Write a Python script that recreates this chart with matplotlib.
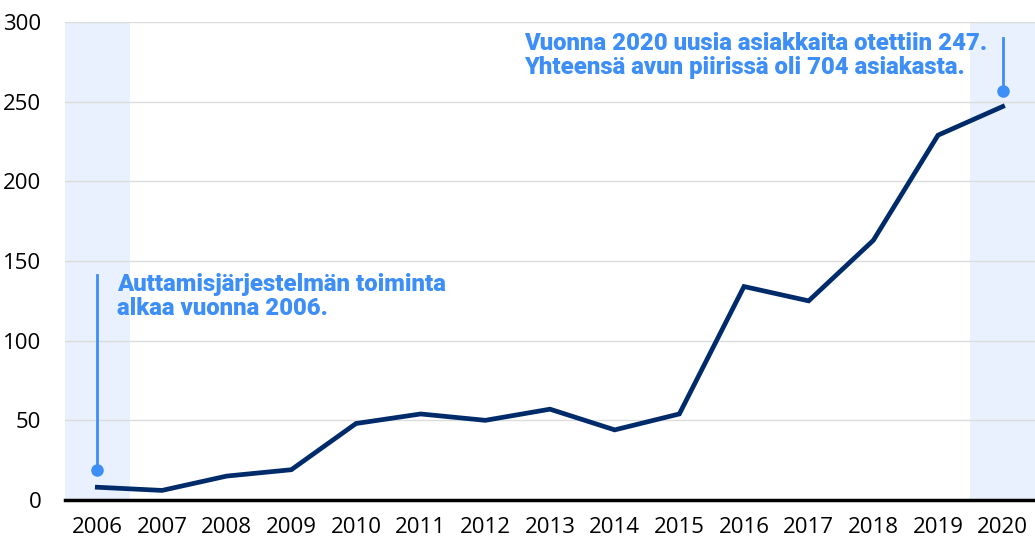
import numpy as np
import matplotlib.pyplot as plt

years = ['2006', '2007', '2008', '2009', '2010', '2011', '2012', '2013',
         '2014', '2015', '2016', '2017', '2018', '2019', '2020']
new_clients = [8, 6, 15, 19, 48, 54, 50, 57, 44, 54, 134, 125, 163, 229, 247]
y_ticks = [0, 50, 100, 150, 200, 250, 300]

note_start = 'Auttamisjärjestelmän toiminta\nalkaa vuonna 2006.'
note_end = 'Vuonna 2020 uusia asiakkaita otettiin 247.\nYhteensä avun piirissä oli 704 asiakasta.'

navy = '#002b6b'
blue = '#3d8ef7'
shade = '#e8f1fd'

fig = plt.figure(figsize=(10.35, 5.39), dpi=100)
ax = fig.add_axes([0.0628, 0.0724, 0.9372, 0.8866])

x = np.arange(len(years))

# highlighted first and last year
ax.axvspan(-0.5, 0.5, color=shade, zorder=0, lw=0)
ax.axvspan(len(years) - 1.5, len(years) - 0.5, color=shade, zorder=0, lw=0)

ax.plot(x, new_clients, color=navy, lw=3.4, solid_joinstyle='miter', zorder=3)

# annotations with pin markers
ax.plot([0, 0], [19, 141], color=blue, lw=2, zorder=4)
ax.plot(0, 19, 'o', color=blue, ms=8, zorder=4)
ax.text(0.3, 142.5, note_start, color=blue, fontsize=17.2, fontweight=900,
        family='Roboto', va='top', ha='left', linespacing=1.05)

ax.plot([14, 14], [257, 290], color=blue, lw=2, zorder=4)
ax.plot(14, 257, 'o', color=blue, ms=8, zorder=4)
ax.text(6.6, 293.5, note_end, color=blue, fontsize=17.2, fontweight=900,
        family='Roboto', va='top', ha='left', linespacing=1.05)

ax.set_xlim(-0.5, len(years) - 0.5)
ax.set_ylim(0, 300)
ax.set_yticks(y_ticks)
ax.set_xticks(x)
ax.set_xticklabels(years)
ax.tick_params(length=0, labelsize=16, colors='black')
ax.tick_params(axis='x', pad=12)
ax.tick_params(axis='y', pad=17)
for lab in ax.get_xticklabels() + ax.get_yticklabels():
    lab.set_family('Open Sans')

ax.grid(axis='y', color='#dcdcdc', lw=1)
ax.set_axisbelow(True)
for s in ['top', 'right', 'left']:
    ax.spines[s].set_visible(False)
ax.spines['bottom'].set_color('black')
ax.spines['bottom'].set_linewidth(2.5)
ax.spines['bottom'].set_zorder(5)

fig.savefig('out.png', dpi=100)
